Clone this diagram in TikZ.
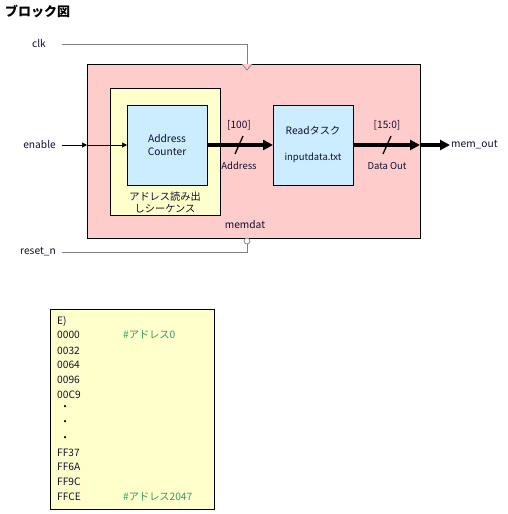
\documentclass[tikz,border=0pt]{standalone}
\usepackage{fontspec}
\setmainfont{Noto Sans CJK JP}
\usepackage{tikz}
\usetikzlibrary{arrows.meta,positioning,calc}
\definecolor{mdPink}{HTML}{FFCCCC}
\definecolor{mdYellow}{HTML}{FFFFCC}
\definecolor{mdBlue}{HTML}{CCECFF}
\definecolor{mdWire}{HTML}{808080}
\definecolor{mdGreen}{HTML}{339966}
\definecolor{mdInk}{HTML}{101030}
\tikzset{
  blk/.style={draw=black, line width=0.8pt, inner sep=0pt, anchor=north west},
  lbl/.style={font=\fontsize{10.2}{11}\selectfont, inner sep=1pt, text=mdInk},
  lsmall/.style={lbl, font=\fontsize{9.5}{11}\selectfont},
  bus/.style={line width=3.6pt, -{Triangle[length=10pt,width=10pt]}},
  sig/.style={line width=0.6pt, -{Triangle[length=5pt,width=5pt]}},
  ctl/.style={draw=mdWire, line width=0.9pt},
}
\begin{document}
\begin{tikzpicture}[x=1pt,y=-1pt]
  \useasboundingbox (0,0) rectangle (507,514);
  \node[font=\fontsize{13}{15}\selectfont\bfseries, anchor=west, inner sep=0pt] (title) at (5,11) {ブロック図};

  % blocks
  \node[blk, fill=mdPink, minimum width=333, minimum height=174] (memdat) at (87,64) {};
  \node[blk, fill=mdYellow, minimum width=110, minimum height=127] (seq) at (110,88) {};
  \node[blk, fill=mdBlue, minimum width=80, minimum height=80] (counter) at (127,105) {};
  \node[blk, fill=mdBlue, minimum width=80, minimum height=80] (read) at (273,105) {};

  \node[lbl, align=center] (countertxt) at (167,145) {Address\\[2pt]Counter};
  \node[lbl, align=center] (seqtxt) at (165,202) {アドレス読み出\\[1pt]しシーケンス};
  \node[lbl] (readtxt) at (313,131) {Readタスク};
  \node[lsmall] (filetxt) at (313,158) {inputdata.txt};
  \node[lbl] (memdattxt) at (245,225) {memdat};

  % ports
  \node[lbl, anchor=east] (clk) at (47,44) {clk};
  \node[lbl, anchor=east] (enable) at (57,145) {enable};
  \node[lbl, anchor=east] (reset) at (57,252) {reset\_n};
  \node[lbl, anchor=west] (memout) at (450,145) {mem\_out};

  \coordinate (clkin) at (247,64);
  \coordinate (rstin) at (247,244);
  \coordinate (dout) at (420,145);

  % clock and reset
  \draw[ctl] (clk.east) ++(15,0) -- (clkin |- clk) -- (clkin);
  \draw[draw=mdWire, fill=mdPink, line width=0.7pt] ($(clkin)+(-5,0)$) -- ($(clkin)+(0,6)$) -- ($(clkin)+(5,0)$);
  \draw[ctl] (reset.east) ++(5,0) -- (rstin |- reset) -- (rstin);
  \draw[draw=mdWire, fill=white, line width=0.7pt] ($(rstin)+(0,-3)$) circle (3);

  % enable
  \draw[sig] (enable.east) ++(5,0) -- (memdat.west |- enable);
  \draw[sig] (memdat.west |- enable) -- (counter.west |- enable);

  % buses
  \draw[bus] (counter.east |- dout) -- (read.west |- dout);
  \draw[line width=1.3pt] (235,154) -- (243,136);
  \node[lbl] (abus) at (239,125) {[100]};
  \node[lsmall] (aname) at (239,166) {Address};

  \draw[bus] (read.east |- dout) -- (dout);
  \draw[bus] (dout) -- (memout.west);
  \draw[line width=1.3pt] (383,154) -- (391,136);
  \node[lbl] (dbus) at (387,125) {[15:0]};
  \node[lsmall] (dname) at (387,166) {Data Out};

  % memory file example
  \node[blk, fill=mdYellow, minimum width=164, minimum height=200] (memfile) at (50,309) {};
  \foreach \y/\t [count=\i] in {321/E), 335/0000, 351/0032, 365/0064, 380/0096, 395/00C9,
                                453/FF37, 467/FF6A, 482/FF9C, 497/FFCE}
    \node[lbl, anchor=west] (line\i) at (56,\y) {\t};
  \foreach \y [count=\i] in {406,421,437}
    \node[circle, fill=black, inner sep=0pt, minimum size=2.5pt] (dot\i) at (65,\y) {};
  \node[lbl, anchor=west, text=mdGreen] (cmt0) at (122,335) {\#アドレス0};
  \node[lbl, anchor=west, text=mdGreen] (cmtN) at (122,497) {\#アドレス2047};
\end{tikzpicture}
\end{document}
